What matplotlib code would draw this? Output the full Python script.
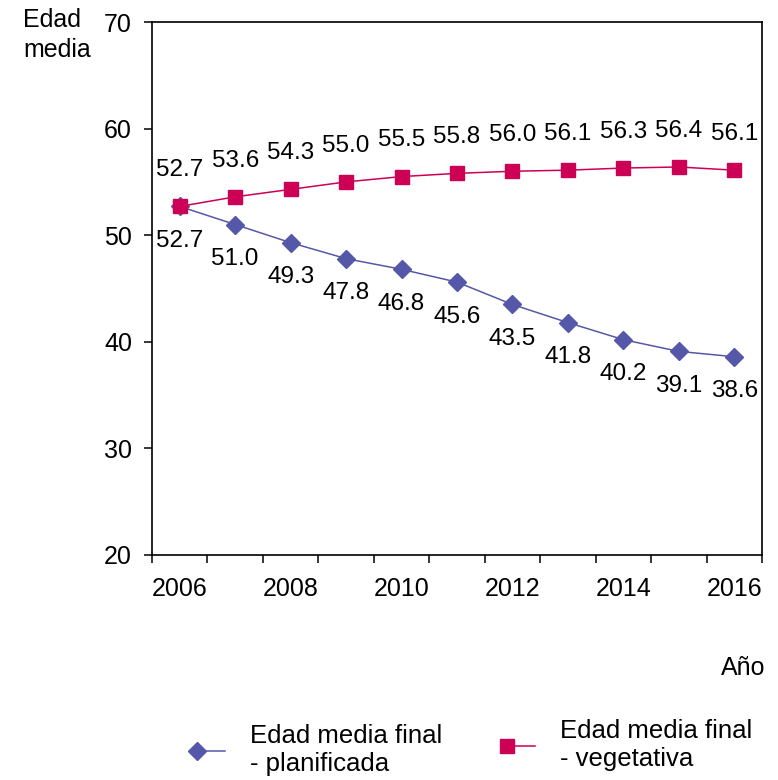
import matplotlib
matplotlib.use("Agg")
import matplotlib.pyplot as plt
import numpy as np
from matplotlib.legend_handler import HandlerLine2D
from matplotlib.lines import Line2D

plt.rcParams["font.family"] = ["Liberation Sans", "DejaVu Sans"]

# data
years = [2006, 2007, 2008, 2009, 2010, 2011, 2012, 2013, 2014, 2015, 2016]
planificada = [52.7, 51.0, 49.3, 47.8, 46.8, 45.6, 43.5, 41.8, 40.2, 39.1, 38.6]
vegetativa = [52.7, 53.6, 54.3, 55.0, 55.5, 55.8, 56.0, 56.1, 56.3, 56.4, 56.1]
y_ticks = [20, 30, 40, 50, 60, 70]

BLUE = "#5558A8"
RED = "#CC0055"


class MarkerLeftHandler(HandlerLine2D):
    """Excel-style legend key: marker sits at the left end of the line."""

    def create_artists(self, legend, orig_handle, xdescent, ydescent,
                       width, height, fontsize, trans):
        xdata = np.array([-xdescent + 0.25 * width, -xdescent + width])
        ydata = np.full_like(xdata, (height - ydescent) / 2)
        line = Line2D(xdata, ydata)
        self.update_prop(line, orig_handle, legend)
        line.set_markevery([0])
        line.set_transform(trans)
        return [line]


fig = plt.figure(figsize=(7.78, 7.80), dpi=100)
ax = fig.add_axes([152 / 778, 1 - 555 / 780, 610 / 778, 533 / 780])

x = np.arange(len(years))
ax.plot(x, planificada, color=BLUE, lw=1.1, marker="D", ms=9,
        mec=BLUE, mfc=BLUE, zorder=3)
ax.plot(x, vegetativa, color=RED, lw=1.1, marker="s", ms=10,
        mec=RED, mfc=RED, zorder=4)

for xi, v in zip(x, vegetativa):
    ax.annotate(f"{v:.1f}", (xi, v), xytext=(0, 26), textcoords="offset points",
                ha="center", va="center", fontsize=17.5)
for xi, v in zip(x, planificada):
    ax.annotate(f"{v:.1f}", (xi, v), xytext=(0, -25), textcoords="offset points",
                ha="center", va="center", fontsize=17.5)

ax.set_xlim(-0.5, len(years) - 0.5)
ax.set_ylim(y_ticks[0], y_ticks[-1])
ax.set_yticks(y_ticks)
ax.tick_params(axis="y", direction="out", length=5.8, width=1.1, pad=8.6,
               labelsize=18)

# category axis: ticks on boundaries, labels every other category
ax.set_xticks(np.arange(len(years) + 1) - 0.5)
ax.set_xticklabels([])
ax.set_xticks(x[::2], minor=True)
ax.set_xticklabels([str(y) for y in years[::2]], minor=True)
ax.tick_params(axis="x", which="major", direction="out", length=5.8, width=1.1)
ax.tick_params(axis="x", which="minor", length=0, pad=15.8, labelsize=18)

for sp in ax.spines.values():
    sp.set_linewidth(1.2)
    sp.set_color("black")

fig.text(23 / 778, 1 - 8 / 780, "Edad\nmedia", ha="left", va="top",
         fontsize=18, linespacing=1.3)
fig.text(765 / 778, 1 - 668 / 780, "Año", ha="right", va="center", fontsize=18)

h_plan = Line2D([], [], color=BLUE, lw=1.1, marker="D", ms=9, mec=BLUE, mfc=BLUE)
h_veg = Line2D([], [], color=RED, lw=1.1, marker="s", ms=10, mec=RED, mfc=RED)
common = dict(frameon=False, loc="center left", borderpad=0, borderaxespad=0,
              fontsize=18.5, handlelength=1.45, handletextpad=0.95, numpoints=1,
              handler_map={Line2D: MarkerLeftHandler()})
fig.legend([h_plan], ["Edad media final\n- planificada"],
           bbox_to_anchor=(188 / 778, 1 - 750 / 780), **common)
fig.legend([h_veg], ["Edad media final\n- vegetativa"],
           bbox_to_anchor=(498 / 778, 1 - 745 / 780), **common)

fig.savefig("out.png", dpi=100)
